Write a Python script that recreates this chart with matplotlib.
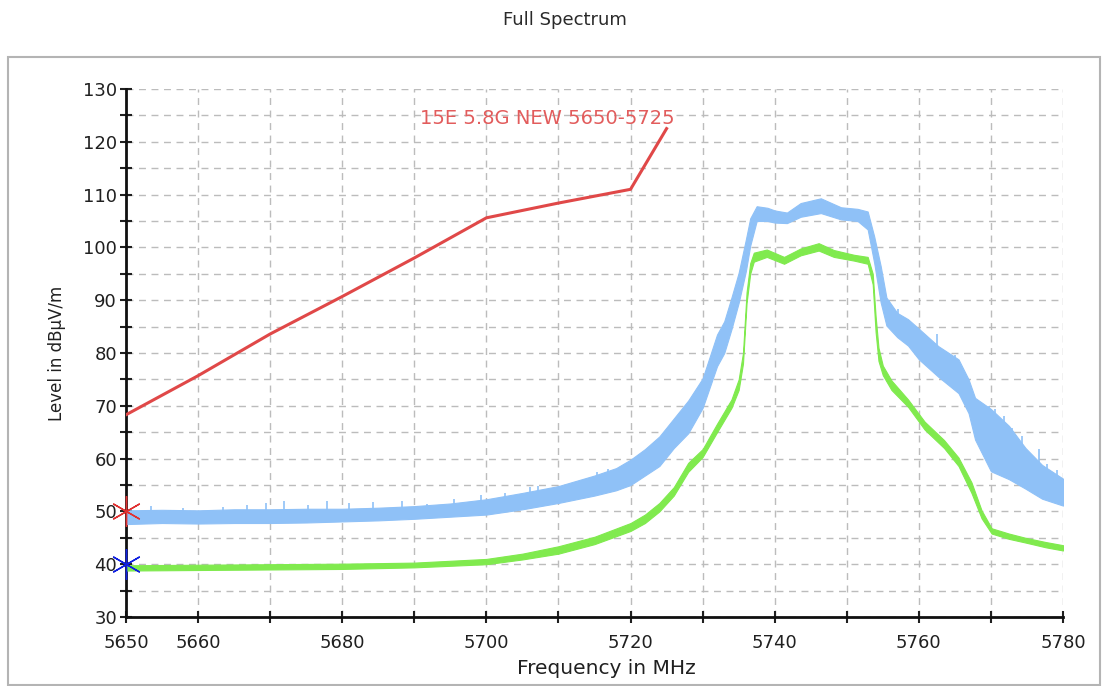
import matplotlib
matplotlib.use('Agg')
import matplotlib.pyplot as plt
from matplotlib.patches import Rectangle

# Limit line
limit_freq = [5650, 5660, 5670, 5680, 5690, 5700, 5710, 5720, 5725]
limit_level = [68.3, 75.7, 83.6, 90.7, 98.0, 105.6, 108.4, 111.0, 122.5]
limit_name = '15E 5.8G NEW 5650-5725'

# Peak trace (blue), lower / upper edge of the noise band
peak_freq = [5650, 5655, 5660, 5665, 5670, 5675, 5680, 5685, 5690, 5695,
             5700, 5705, 5710, 5715, 5718, 5720, 5722, 5724, 5726, 5728,
             5730, 5732, 5733, 5734, 5735, 5736, 5736.6, 5737.5, 5739, 5740,
             5741.7, 5743.6, 5746.4, 5749.2, 5751.5, 5752.9, 5753.8, 5754.7,
             5755.5, 5757, 5758.5, 5760, 5762.7, 5765.5, 5766.9, 5767.8,
             5770, 5772.5, 5774.8, 5777.1, 5780]
peak_lo = [47.6, 47.8, 47.7, 47.8, 47.8, 47.9, 48.1, 48.3, 48.6, 49.0,
           49.4, 50.4, 51.6, 53.0, 54.0, 55.0, 56.8, 58.6, 62.0, 64.8,
           69.6, 77.5, 80.0, 84.5, 89.5, 95.5, 100.3, 105.0, 105.0, 104.7,
           104.6, 105.8, 106.5, 105.3, 105.0, 103.4, 97.1, 89.6,
           85.2, 83.0, 81.4, 78.8, 75.5, 72.4, 68.6, 63.6,
           57.6, 56.1, 54.3, 52.4, 51.1]
peak_hi = [50.2, 50.3, 50.2, 50.4, 50.4, 50.5, 50.5, 50.7, 51.0, 51.5,
           52.3, 53.5, 54.8, 56.8, 58.2, 59.8, 61.8, 64.2, 67.6, 71.0,
           75.2, 83.5, 86.0, 90.5, 95.2, 101.5, 105.5, 107.8, 107.5, 107.0,
           106.6, 108.4, 109.3, 107.6, 107.3, 106.8, 102.1, 96.5,
           90.5, 87.6, 86.4, 84.6, 81.3, 78.8, 75.0, 71.5,
           69.4, 66.2, 62.0, 58.8, 56.2]

# Single noise spikes of the peak trace that stick out of the band
spike_freq = [5653.5, 5657.9, 5663.4, 5666.8, 5669.4, 5671.9, 5675.2, 5677.9,
              5681.0, 5684.2, 5688.3, 5691.8, 5695.5, 5699.2, 5702.6, 5706.0,
              5707.1, 5711.5, 5713.6, 5715.3, 5716.9, 5720.2, 5755.8, 5757.1,
              5759.9, 5762.5, 5763.9, 5765.0, 5767.6, 5769.7, 5770.6, 5771.8,
              5772.9, 5774.3, 5776.7, 5777.8, 5779.2]
spike_base = [49.0, 49.0, 49.0, 49.1, 49.1, 49.1, 49.2, 49.3,
              49.4, 49.5, 49.7, 49.9, 50.3, 50.8, 51.5, 52.0,
              52.2, 53.2, 54.0, 54.9, 56.0, 57.4, 87.0, 85.3,
              81.7, 78.4, 76.9, 75.6, 67.5, 63.0, 62.0, 61.0,
              60.0, 58.5, 55.6, 54.5, 53.6]
spike_top = [51.0, 50.6, 50.9, 51.2, 51.6, 51.9, 51.3, 52.0,
             51.5, 51.7, 51.9, 51.4, 52.3, 53.1, 53.5, 54.7,
             54.8, 55.1, 56.2, 57.5, 58.1, 59.6, 90.0, 88.3,
             84.6, 83.6, 80.2, 79.6, 71.1, 69.9, 69.3, 68.0,
             65.8, 64.3, 61.8, 58.9, 57.8]

# Average trace (green), lower / upper edge
avg_freq = [5650, 5660, 5670, 5680, 5690, 5700, 5705, 5710, 5715, 5720,
            5722, 5724, 5726, 5728, 5730, 5732, 5734, 5735, 5735.6, 5736.1,
            5736.6, 5737.1, 5738.9, 5741.3, 5743.6, 5746.1, 5748.2, 5751,
            5752.9, 5753.6, 5754.0, 5754.4, 5755, 5756.2, 5758.5, 5760.8,
            5763.5, 5765.5, 5767.3, 5768.7, 5770.1, 5772.5, 5774.8, 5777.6, 5780]
avg_lo = [38.8, 38.9, 39.0, 39.1, 39.4, 40.0, 40.9, 42.0, 43.8, 46.3,
          47.8, 50.0, 53.0, 57.5, 60.3, 65.0, 69.6, 73.0, 78.0, 89.5,
          95.0, 97.3, 98.2, 96.9, 98.5, 99.4, 98.2, 97.5,
          96.9, 93.0, 84.0, 78.5, 75.8, 73.0, 69.8, 65.5,
          62.0, 58.6, 53.5, 48.7, 45.8, 44.8, 44.1, 43.2, 42.6]
avg_hi = [39.8, 39.9, 40.0, 40.1, 40.3, 41.0, 42.0, 43.4, 45.2, 47.8,
          49.4, 51.6, 54.6, 59.2, 61.8, 66.6, 71.2, 75.0, 80.0, 91.5,
          97.0, 99.0, 99.6, 98.2, 99.8, 100.8, 99.5, 98.6,
          98.2, 95.0, 87.0, 81.0, 77.6, 74.8, 71.2, 67.0,
          63.5, 60.2, 55.5, 50.2, 46.8, 45.8, 45.0, 44.2, 43.6]

# Start markers on the left axis
marker_freq = [5650, 5650]
marker_level = [50, 40]

x_ticks = list(range(5650, 5781, 10))
x_labels = ['5650', '5660', '', '5680', '', '5700', '', '5720', '',
            '5740', '', '5760', '', '5780']
y_ticks = list(range(30, 131, 5))
y_labels = [str(v) if v % 10 == 0 else '' for v in y_ticks]


def plot_spectrum(output_file='out.png'):
    plt.rcParams['font.family'] = ['DejaVu Sans']

    fig = plt.figure(figsize=(11.08, 6.86), dpi=100)
    ax = fig.add_axes([126 / 1108, 1 - 617 / 686, 937 / 1108, 528 / 686])

    # Grey frame round the plot area
    fig.patches.append(Rectangle((8 / 1108, 1 / 686), 1092 / 1108, 628 / 686,
                                 transform=fig.transFigure, fill=False,
                                 edgecolor='#b4b4b4', linewidth=1.5))

    fig.text(565 / 1108, 1 - 20 / 686, 'Full Spectrum', ha='center', va='center',
             fontsize=13, color='#2a2a2a')

    # Traces
    blue = '#8fc1f7'
    ax.fill_between(peak_freq, peak_lo, peak_hi, color=blue, linewidth=0.8,
                    edgecolor=blue, zorder=3)
    ax.vlines(spike_freq, spike_base, spike_top, color=blue, linewidth=1.2, zorder=3)
    ax.fill_between(avg_freq, avg_lo, avg_hi, color='#80ea4e', linewidth=0.8,
                    edgecolor='#80ea4e', zorder=4)
    ax.plot(limit_freq, limit_level, color='#e04848', linewidth=2.2, zorder=5)
    ax.text(5690.8, 124.5, limit_name, color='#e25c5c', fontsize=14,
            va='center', ha='left', zorder=6)

    # Asterisk markers
    ax.plot(marker_freq[0], marker_level[0], marker=(6, 2, 0), color='#e03030',
            markersize=22, markeredgewidth=1.0, clip_on=False, zorder=7)
    ax.plot(marker_freq[1], marker_level[1], marker=(6, 2, 0), color='#1020e0',
            markersize=22, markeredgewidth=1.0, clip_on=False, zorder=7)

    ax.set_xlim(5650, 5780)
    ax.set_ylim(30, 130)
    ax.set_xticks(x_ticks)
    ax.set_xticklabels(x_labels)
    ax.set_yticks(y_ticks)
    ax.set_yticklabels(y_labels)
    ax.tick_params(direction='inout', length=9, width=1.5, labelsize=13,
                   colors='#202020')
    ax.tick_params(axis='x', pad=8)
    ax.tick_params(axis='y', pad=2)

    ax.grid(True, linestyle=(0, (5, 4)), color='#bcbcbc', linewidth=1.0)
    ax.set_axisbelow(True)
    for side in ('top', 'right'):
        ax.spines[side].set_visible(False)
    for side in ('left', 'bottom'):
        ax.spines[side].set_linewidth(2)
        ax.spines[side].set_color('#101010')

    ax.set_xlabel('Frequency in MHz', fontsize=14.5, color='#202020',
                  labelpad=5, x=0.513)
    ax.set_ylabel('Level in dBµV/m', fontsize=12, color='#202020', labelpad=12)

    fig.savefig(output_file, dpi=100)


if __name__ == '__main__':
    plot_spectrum()
